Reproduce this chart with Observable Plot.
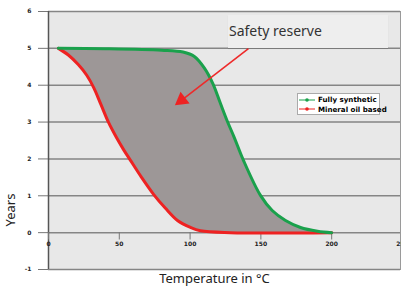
<!DOCTYPE html>
<html><head><meta charset="utf-8">
<script src="https://cdn.jsdelivr.net/npm/d3@7"></script>
<script src="https://cdn.jsdelivr.net/npm/@observablehq/plot@0.6"></script>
<style>
body{margin:0;background:#fff;}
#wrap{position:relative;width:401px;height:291px;overflow:hidden;}
#box{position:absolute;left:228px;top:15px;width:160px;height:33px;background:#eeeeee;box-shadow:0 1px 1px rgba(0,0,0,0.08);font:14px "Noto Sans",sans-serif;color:#333;line-height:32px;padding-left:1px;box-sizing:border-box;}
#legend{position:absolute;left:297px;top:93px;width:83px;height:22px;background:#fff;border:1px solid #aaa;box-sizing:border-box;font:bold 7.1px "DejaVu Sans",sans-serif;color:#000;padding-top:1px;}
#legend div{display:flex;align-items:center;height:9.5px;white-space:nowrap;}
#legend svg{margin-right:2px;flex:none;}
</style></head>
<body><div id="wrap"></div>
<script>
// Data
const synthT = [7, 40, 80, 95, 103, 110, 116, 121, 126, 131, 137.7, 149.7, 158, 167.4, 178, 190, 200];
const synthY = [5, 4.99, 4.95, 4.9, 4.78, 4.47, 4.05, 3.55, 3.05, 2.6, 1.96, 1.01, 0.6, 0.33, 0.14, 0.04, 0];
const mineralT = [7, 14, 21, 27, 32, 37, 42.4, 48, 52.9, 57.9, 65.7, 74.2, 82.6, 91.1, 100.3, 107.3, 128.5, 200];
const mineralY = [5, 4.82, 4.56, 4.27, 3.93, 3.48, 2.99, 2.58, 2.26, 1.96, 1.5, 1.04, 0.66, 0.33, 0.14, 0.05, 0.0, 0];
const seriesNames = ["Fully synthetic", "Mineral oil based"];
const seriesColors = ["#1aa14c", "#ee2222"];
const yTicks = [6, 5, 4, 3, 2, 1, 0, -1];
const xTicks = [0, 50, 100, 150, 200, 250];
const arrowFromT = [141.2], arrowFromY = [4.99];
const arrowToT = [91.8], arrowToY = [3.53];
const annotationText = "Safety reserve";
const xLabel = "Temperature in °C";
const yLabel = "Years";

const synth = synthT.map((t, i) => ({t, y: synthY[i]}));
const mineral = mineralT.map((t, i) => ({t, y: mineralY[i]}));
const polygon = synth.concat(mineral.slice().reverse());
const arrow = arrowFromT.map((t, i) => ({x1: t, y1: arrowFromY[i], x2: arrowToT[i], y2: arrowToY[i]}));

const tickFont = {fontSize: 6, fontWeight: "bold", fontFamily: "DejaVu Sans", fill: "#222"};

const chart = Plot.plot({
  width: 401, height: 291,
  marginLeft: 48, marginRight: 1, marginTop: 11, marginBottom: 22,
  x: {domain: [0, 248.6], axis: null},
  y: {domain: [-1, 6], axis: null},
  style: {background: "transparent", fontFamily: "Noto Sans, sans-serif", overflow: "visible"},
  marks: [
    Plot.frame({fill: "#e8e8e8", stroke: "#9a9a9a"}),
    Plot.ruleY(yTicks, {stroke: "#858585", strokeWidth: 1.5}),
    Plot.axisY(yTicks, {anchor: "left", tickSize: 10, tickPadding: 7, stroke: "#777", label: null, tickFormat: d => String(d), ...tickFont}),
    Plot.ruleX([0], {stroke: "#555", strokeWidth: 1.5}),
    Plot.ruleX(xTicks, {x: d => d, y1: 0, y2: -0.2, stroke: "#777"}),
    Plot.text(xTicks, {x: d => d, y: 0, dy: 11, text: d => String(d), ...tickFont}),
    Plot.line(polygon, {x: "t", y: "y", fill: "#9d9797", stroke: "none", curve: "catmull-rom"}),
    Plot.line(mineral, {x: "t", y: "y", stroke: seriesColors[1], strokeWidth: 3, curve: "catmull-rom"}),
    Plot.line(synth, {x: "t", y: "y", stroke: seriesColors[0], strokeWidth: 3, curve: "catmull-rom"}),
    Plot.link(arrow, {x1: "x1", y1: "y1", x2: "x2", y2: "y2", stroke: "#ee2a2a", strokeWidth: 1.6}),
    Plot.dot(arrow, {x: "x2", y: "y2", symbol: "triangle", r: 5.5, fill: "#ee2222", stroke: "none", rotate: 232.4, dx: 3.2, dy: -2.4}),
    Plot.text([xLabel], {frameAnchor: "bottom", dx: -10, dy: 13, fontSize: 13, fill: "#222", fontFamily: "Noto Sans"}),
    Plot.text([yLabel], {frameAnchor: "bottom-left", dx: -34, dy: -43, rotate: -90, fontSize: 13, fill: "#222", fontFamily: "Noto Sans"})
  ]
});
const wrap = document.getElementById("wrap");
wrap.appendChild(chart);

const box = document.createElement("div");
box.id = "box";
box.textContent = annotationText;
wrap.appendChild(box);

const legend = document.createElement("div");
legend.id = "legend";
seriesNames.forEach((name, i) => {
  const row = document.createElement("div");
  row.innerHTML = `<svg width="18" height="6"><line x1="1" y1="3" x2="17" y2="3" stroke="${seriesColors[i]}" stroke-width="1"/><circle cx="9" cy="3" r="1.8" fill="${seriesColors[i]}"/></svg><span>${name}</span>`;
  legend.appendChild(row);
});
wrap.appendChild(legend);
</script></body></html>
